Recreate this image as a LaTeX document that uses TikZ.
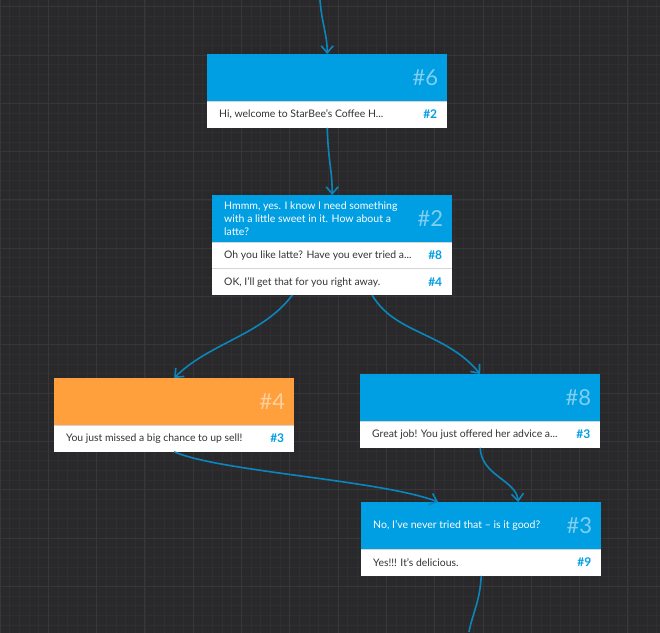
\documentclass[tikz,border=0pt]{standalone}
\usepackage{fontspec}
\setmainfont{Lato}
\usetikzlibrary{arrows.meta}

\definecolor{canvas}{HTML}{29292B}
\definecolor{gridmin}{HTML}{2F2F32}
\definecolor{gridmaj}{HTML}{37373A}
\definecolor{hdblue}{HTML}{009EE2}
\definecolor{hdorange}{HTML}{FFA03C}
\definecolor{wireblue}{HTML}{0A86BC}
\definecolor{rowtxt}{HTML}{333333}
\definecolor{sepgray}{HTML}{D4D4D4}

\begin{document}
\begin{tikzpicture}[x=1pt, y=-1pt,
    head/.style = {anchor=north west, fill=hdblue, minimum width=240pt, minimum height=47pt, inner sep=0pt},
    row/.style = {anchor=north, fill=white, minimum width=240pt, minimum height=26pt, inner sep=0pt},
    hnum/.style = {anchor=east, inner sep=0pt, text=white, text opacity=0.5, font=\fontsize{22}{22}\selectfont},
    htxt/.style = {anchor=west, inner sep=0pt, text=white, align=left, font=\fontsize{10.5}{12.8}\selectfont},
    rtxt/.style = {anchor=west, inner sep=0pt, text=rowtxt, font=\fontsize{10.4}{12}\selectfont},
    rnum/.style = {anchor=east, inner sep=0pt, text=hdblue, font=\bfseries\fontsize{12}{12}\selectfont},
    sepline/.style = {draw=sepgray, line width=1.5pt},
    link/.style = {draw=wireblue, line width=1.6pt, -{Straight Barb[length=7pt,width=12pt]}}]

    % canvas and grid
    \useasboundingbox (0,0) rectangle (660,632);
    \fill[canvas] (-5,-5) rectangle (665,637);
    \begin{scope}[shift={(0,6.7)}]
        \draw[gridmin, line width=0.8pt, step=9.66pt] (0,-10) grid (660,630);
        \draw[gridmaj, line width=1pt, step=48.3pt] (0,-10) grid (660,630);
    \end{scope}

    % node #6
    \node[head] (h6) at (207,54) {};
    \node[hnum] (n6) at ([xshift=-9pt]h6.east) {\#6};
    \node[row] (r6) at (h6.south) {};
    \draw[sepline] (r6.north west) -- (r6.north east);
    \node[rtxt] (t6) at ([xshift=12pt]r6.west) {Hi, welcome to StarBee's Coffee H...};
    \node[rnum] (l6) at ([xshift=-10pt]r6.east) {\#2};

    % node #2
    \node[head] (h2) at (212,195) {};
    \node[hnum] (n2) at ([xshift=-9pt]h2.east) {\#2};
    \node[htxt] (q2) at ([xshift=12pt]h2.west) {Hmmm, yes. I know I need something\\with a little sweet in it. How about a\\latte?};
    \node[row] (r2a) at (h2.south) {};
    \node[row] (r2b) at (r2a.south) {};
    \draw[sepline] (r2a.north west) -- (r2a.north east);
    \draw[sepline, line width=1pt] (r2b.north west) -- (r2b.north east);
    \node[rtxt] (t2a) at ([xshift=12pt]r2a.west) {Oh you like latte? Have you ever tried a...};
    \node[rnum] (l2a) at ([xshift=-10pt]r2a.east) {\#8};
    \node[rtxt] (t2b) at ([xshift=12pt]r2b.west) {OK, I'll get that for you right away.};
    \node[rnum] (l2b) at ([xshift=-10pt]r2b.east) {\#4};

    % node #4
    \node[head, fill=hdorange] (h4) at (54,378) {};
    \node[hnum] (n4) at ([xshift=-9pt]h4.east) {\#4};
    \node[row] (r4) at (h4.south) {};
    \draw[sepline] (r4.north west) -- (r4.north east);
    \node[rtxt] (t4) at ([xshift=12pt]r4.west) {You just missed a big chance to up sell!};
    \node[rnum] (l4) at ([xshift=-10pt]r4.east) {\#3};

    % node #8
    \node[head] (h8) at (360,374) {};
    \node[hnum] (n8) at ([xshift=-9pt]h8.east) {\#8};
    \node[row] (r8) at (h8.south) {};
    \draw[sepline] (r8.north west) -- (r8.north east);
    \node[rtxt] (t8) at ([xshift=12pt]r8.west) {Great job! You just offered her advice a...};
    \node[rnum] (l8) at ([xshift=-10pt]r8.east) {\#3};

    % node #3
    \node[head] (h3) at (361,502) {};
    \node[hnum] (n3) at ([xshift=-9pt]h3.east) {\#3};
    \node[htxt] (q3) at ([xshift=12pt]h3.west) {No, I've never tried that -- is it good?};
    \node[row] (r3) at (h3.south) {};
    \draw[sepline] (r3.north west) -- (r3.north east);
    \node[rtxt] (t3) at ([xshift=12pt]r3.west) {Yes!!! It's delicious.};
    \node[rnum] (l3) at ([xshift=-10pt]r3.east) {\#9};

    % connectors
    \coordinate (in6) at (320,0);
    \coordinate (out3) at (469,632);
    \draw[link] (in6) .. controls +(2,25) and +(0,-20) .. (h6.north);
    \draw[link] (r6.south) .. controls +(1,33) and +(0,-25) .. (h2.north);
    \draw[link] ([xshift=-40pt]r2b.south) .. controls +(-30,40) and +(35,-35) .. (h4.north);
    \draw[link] ([xshift=40pt]r2b.south) .. controls +(23,39) and +(-35,-42) .. (h8.north);
    \draw[link] (r4.south) .. controls +(46,20) and +(-58,-22) .. ([xshift=-43pt]h3.north);
    \draw[link] (r8.south) .. controls +(1,28) and +(-2,-22) .. ([xshift=37pt]h3.north);
    \draw[link, -] (r3.south) .. controls +(-1,25) and +(3,-17) .. (out3);
\end{tikzpicture}
\end{document}
